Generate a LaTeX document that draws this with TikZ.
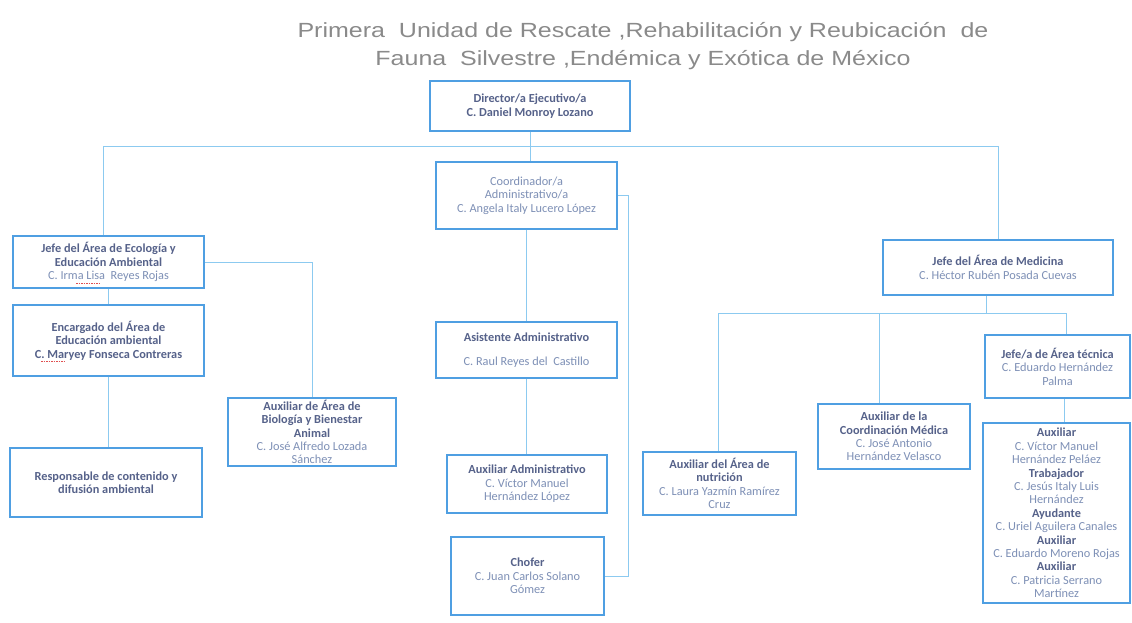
\documentclass[tikz,border=0pt]{standalone}
\usepackage{fontspec}
\setmainfont{Carlito}
\newfontfamily\titlefont{Liberation Sans}
\definecolor{boxblue}{HTML}{4F9FE2}
\definecolor{lineblue}{HTML}{8CCAF0}
\definecolor{darktxt}{HTML}{56628A}
\definecolor{lighttxt}{HTML}{7E90B6}
\definecolor{titlegray}{HTML}{8A8A8A}
\definecolor{squig}{HTML}{E05050}
\newcommand{\rolet}[1]{{\bfseries\color{darktxt}#1}}
\newcommand{\namet}[1]{{\color{lighttxt}#1}}
\tikzset{
  orgbox/.style={draw=boxblue, line width=1.3pt, fill=white, inner sep=2pt,
    align=center, font=\fontsize{12.3}{13.4}\selectfont, text=lighttxt},
  conn/.style={draw=lineblue, line width=0.8pt},
  squiggle/.style={draw=squig, line width=0.8pt, dash pattern=on 1.5pt off 1pt}
}
\begin{document}
\begin{tikzpicture}[x=1pt,y=-1pt]
\useasboundingbox (0,0) rectangle (1132,623);
% title
\node[font=\titlefont\fontsize{20.5}{28}\selectfont, text=titlegray, align=center] (title) at (643,46)
  {\scalebox{1.22}[1]{Primera\ \ Unidad de Rescate ,Rehabilitación y Reubicación\ \ de}\\\scalebox{1.22}[1]{Fauna\ \ Silvestre ,Endémica y Exótica de México}};
% boxes
\node[orgbox, minimum width=200pt, minimum height=50pt] (dir) at (530,106)
  {\rolet{Director/a Ejecutivo/a}\\\rolet{C. Daniel Monroy Lozano}};
\node[orgbox, minimum width=181pt, minimum height=67pt] (coord) at (526.5,195.5)
  {\namet{Coordinador/a}\\\namet{Administrativo/a}\\\namet{C. Angela Italy Lucero López}};
\node[orgbox, minimum width=191pt, minimum height=52pt] (jefeEco) at (108.5,262)
  {\rolet{Jefe del Área de Ecología y}\\\rolet{Educación Ambiental}\\\namet{C. Irma Lisa\ \ Reyes Rojas}};
\node[orgbox, minimum width=191pt, minimum height=71pt] (enc) at (108.5,340.5)
  {\rolet{Encargado del Área de}\\\rolet{Educación ambiental}\\\rolet{C. Maryey Fonseca Contreras}};
\node[orgbox, minimum width=192pt, minimum height=69pt] (resp) at (106,482.5)
  {\rolet{Responsable de contenido y}\\\rolet{difusión ambiental}};
\node[orgbox, minimum width=168pt, minimum height=68pt] (auxBio) at (312,432)
  {\rolet{Auxiliar de Área de}\\\rolet{Biología y Bienestar}\\\rolet{Animal}\\\namet{C. José Alfredo Lozada}\\\namet{Sánchez}};
\node[orgbox, minimum width=181pt, minimum height=56pt] (asis) at (526.5,350)
  {\rolet{Asistente Administrativo}\\[10pt]\namet{C. Raul Reyes del\ \ Castillo}};
\node[orgbox, minimum width=160pt, minimum height=58pt] (auxAdm) at (527,484)
  {\rolet{Auxiliar Administrativo}\\\namet{C. Víctor Manuel}\\\namet{Hernández López}};
\node[orgbox, minimum width=153pt, minimum height=78pt] (chofer) at (527.5,576)
  {\rolet{Chofer}\\\namet{C. Juan Carlos Solano}\\\namet{Gómez}};
\node[orgbox, minimum width=230pt, minimum height=55pt] (jefeMed) at (998,267.5)
  {\rolet{Jefe del Área de Medicina}\\\namet{C. Héctor Rubén Posada Cuevas}};
\node[orgbox, minimum width=153pt, minimum height=63pt] (auxNut) at (719.5,483.5)
  {\rolet{Auxiliar del Área de}\\\rolet{nutrición}\\\namet{C. Laura Yazmín Ramírez}\\\namet{Cruz}};
\node[orgbox, minimum width=152pt, minimum height=65pt] (auxMed) at (894,436.5)
  {\rolet{Auxiliar de la}\\\rolet{Coordinación Médica}\\\namet{C. José Antonio}\\\namet{Hernández Velasco}};
\node[orgbox, minimum width=145pt, minimum height=63pt] (jefaTec) at (1057.5,366.5)
  {\rolet{Jefe/a de Área técnica}\\\namet{C. Eduardo Hernández}\\\namet{Palma}};
\node[orgbox, minimum width=147pt, minimum height=180pt] (auxBig) at (1056.5,513)
  {\rolet{Auxiliar}\\\namet{C. Víctor Manuel}\\\namet{Hernández Peláez}\\\rolet{Trabajador}\\\namet{C. Jesús Italy Luis}\\\namet{Hernández}\\\rolet{Ayudante}\\\namet{C. Uriel Aguilera Canales}\\\rolet{Auxiliar}\\\namet{C. Eduardo Moreno Rojas}\\\rolet{Auxiliar}\\\namet{C. Patricia Serrano}\\\namet{Martínez}};
% spell-check marks
\draw[squiggle] (76,283) -- (100,283);
\draw[squiggle] (41,361) -- (66,361);
% connector coordinates
\coordinate (barL) at (103,146);
\coordinate (barR) at (998,146);
\coordinate (medBr) at (986,313);
\coordinate (brL) at (718,313);
\coordinate (brM) at (879,313);
\coordinate (brR) at (1066,313);
\coordinate (coordR) at (628,195.5);
% connectors
\draw[conn] (dir.south) -- (dir.south |- coord.north);
\draw[conn] (barL |- jefeEco.north) -- (barL) -- (barR) -- (jefeMed.north);
\draw[conn] (jefeEco.east) -| (auxBio.north);
\draw[conn] (jefeEco.south) -- (enc.north);
\draw[conn] (enc.south) -- (enc.south |- resp.north);
\draw[conn] (coord.south) -- (asis.north);
\draw[conn] (asis.south) -- (asis.south |- auxAdm.north);
\draw[conn] (coord.east) -- (coordR) |- (chofer.east);
\draw[conn] (medBr |- jefeMed.south) -- (medBr);
\draw[conn] (brL) -- (brR);
\draw[conn] (brL) -- (brL |- auxNut.north);
\draw[conn] (brM) -- (brM |- auxMed.north);
\draw[conn] (brR) -- (brR |- jefaTec.north);
\draw[conn] (jefaTec.south -| 1064,0) -- (auxBig.north -| 1064,0);
\end{tikzpicture}
\end{document}
